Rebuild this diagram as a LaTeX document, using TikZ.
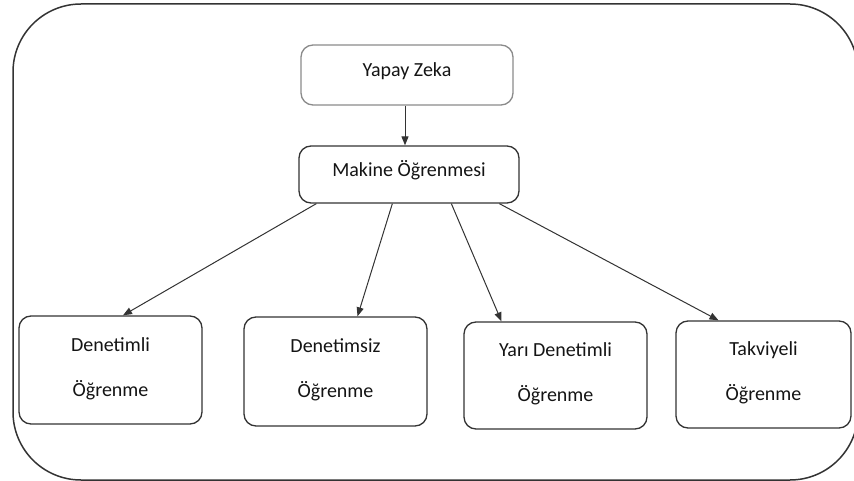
\documentclass[tikz,border=0pt]{standalone}
\usepackage{fontspec}
\setmainfont{Carlito}
\usetikzlibrary{arrows.meta}
\definecolor{linecol}{HTML}{333333}
\definecolor{lightline}{HTML}{8A8A8A}
\definecolor{txtcol}{HTML}{141414}
\newcommand{\twolines}[2]{\raisebox{0pt}[0pt][0pt]{\begin{tabular}{@{}c@{}}#1\\#2\end{tabular}}}
\newcommand{\oneline}[2]{\raisebox{#1}[0pt][0pt]{#2}}
\tikzset{
  box/.style={draw=linecol, line width=1.3pt, rounded corners=12pt, inner sep=0pt,
    align=center, text=txtcol, font=\fontsize{20}{45}\selectfont},
  conn/.style={draw=linecol, line width=1pt, -{Triangle[length=9pt,width=7pt]}},
  frame/.style={draw=linecol, line width=1.5pt, rounded corners=68pt}
}
\begin{document}
\begin{tikzpicture}[x=1pt,y=-1pt]
\useasboundingbox (0,0) rectangle (854,481);
\begin{scope}
\clip (0,0) rectangle (854,481);
\draw[frame] (13,4) rectangle (858,480);
\end{scope}
\node[box, draw=lightline, minimum width=212pt, minimum height=60pt] (yz) at (407,75) {\oneline{-2pt}{Yapay Zeka}};
\node[box, minimum width=220pt, minimum height=57pt] (mak) at (409,174.5) {\oneline{-2.5pt}{Makine Öğrenmesi}};
\node[box, minimum width=183pt, minimum height=108pt] (d1) at (110.5,370) {\twolines{Denetimli}{Öğrenme}};
\node[box, minimum width=183pt, minimum height=109pt] (d2) at (335.5,371.5) {\twolines{Denetimsiz}{Öğrenme}};
\node[box, minimum width=183pt, minimum height=107pt] (d3) at (555.5,375.5) {\twolines{Yarı Denetimli}{Öğrenme}};
\node[box, minimum width=175pt, minimum height=107pt] (d4) at (763.5,374.5) {\twolines{Takviyeli}{Öğrenme}};
\draw[conn] ([xshift=-2pt]yz.south) -- ([xshift=-4pt]mak.north);
\draw[conn] ([xshift=18pt]mak.south west) -- ([xshift=12.5pt]d1.north);
\draw[conn] ([xshift=94pt]mak.south west) -- ([xshift=22pt]d2.north);
\draw[conn] ([xshift=153pt]mak.south west) -- ([xshift=-54pt]d3.north);
\draw[conn] ([xshift=201pt]mak.south west) -- ([xshift=-45pt]d4.north);
\end{tikzpicture}
\end{document}
